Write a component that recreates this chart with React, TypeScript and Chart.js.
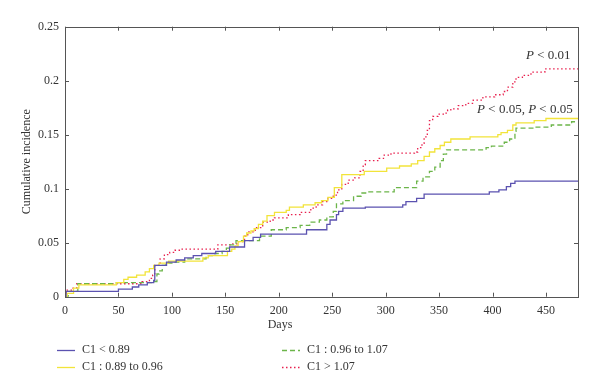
import React, { useEffect, useRef } from "react";
import { Chart, registerables } from "chart.js";
Chart.register(...registerables);

const xTicks = [0, 50, 100, 150, 200, 250, 300, 350, 400, 450];
const yTicks = [0, 0.05, 0.1, 0.15, 0.2, 0.25];
const xTitle = "Days";
const yTitle = "Cumulative incidence";
const seriesNames = ["C1 < 0.89", "C1 : 0.89 to 0.96", "C1 : 0.96 to 1.07", "C1 > 1.07"];

const blueDays = [0, 1, 50, 63, 69, 77, 83, 84, 95, 104, 112, 120, 128, 141, 154, 168, 176, 183, 226, 245, 248, 254, 256, 260, 281, 316, 319, 329, 336, 397, 406, 413, 417, 421, 480];
const blueVals = [0, 0.005, 0.007, 0.009, 0.011, 0.013, 0.015, 0.029, 0.032, 0.034, 0.036, 0.038, 0.040, 0.042, 0.046, 0.052, 0.055, 0.058, 0.062, 0.067, 0.071, 0.076, 0.079, 0.082, 0.083, 0.085, 0.088, 0.091, 0.095, 0.097, 0.099, 0.102, 0.105, 0.107, 0.107];

const yellowDays = [0, 2, 8, 13, 48, 55, 59, 67, 75, 79, 83, 88, 97, 129, 134, 152, 156, 159, 162, 167, 170, 174, 177, 181, 185, 189, 196, 207, 210, 223, 234, 240, 246, 252, 259, 280, 301, 313, 324, 330, 336, 341, 346, 351, 355, 361, 379, 405, 408, 414, 419, 422, 439, 450, 480];
const yellowVals = [0, 0.003, 0.008, 0.011, 0.013, 0.016, 0.018, 0.020, 0.023, 0.026, 0.029, 0.031, 0.033, 0.036, 0.038, 0.042, 0.044, 0.047, 0.051, 0.056, 0.059, 0.061, 0.063, 0.067, 0.070, 0.075, 0.078, 0.080, 0.083, 0.085, 0.087, 0.089, 0.092, 0.101, 0.113, 0.116, 0.119, 0.121, 0.123, 0.126, 0.130, 0.134, 0.137, 0.140, 0.143, 0.146, 0.148, 0.150, 0.152, 0.154, 0.159, 0.161, 0.163, 0.165, 0.165];

const greenDays = [0, 3, 12, 48, 83, 86, 88, 91, 94, 100, 112, 132, 140, 147, 151, 154, 160, 182, 193, 207, 220, 229, 238, 245, 251, 254, 260, 270, 277, 282, 308, 329, 335, 341, 346, 351, 354, 357, 394, 399, 411, 416, 421, 422, 439, 455, 474, 480];
const greenVals = [0, 0.005, 0.012, 0.013, 0.014, 0.021, 0.024, 0.029, 0.031, 0.032, 0.035, 0.038, 0.040, 0.042, 0.045, 0.048, 0.052, 0.056, 0.062, 0.064, 0.066, 0.069, 0.071, 0.074, 0.079, 0.086, 0.089, 0.093, 0.096, 0.097, 0.101, 0.107, 0.111, 0.116, 0.120, 0.126, 0.132, 0.136, 0.138, 0.1395, 0.143, 0.146, 0.153, 0.156, 0.157, 0.159, 0.162, 0.162];

const redDays = [0, 1, 6, 11, 72, 79, 82, 84, 89, 93, 98, 103, 108, 143, 157, 162, 168, 171, 178, 185, 192, 196, 209, 220, 230, 235, 241, 246, 251, 255, 259, 265, 271, 276, 279, 281, 294, 298, 305, 327, 330, 334, 336, 339, 341, 344, 349, 354, 358, 361, 368, 375, 382, 391, 402, 410, 414, 419, 422, 428, 436, 449, 480];
const redVals = [0, 0.006, 0.008, 0.012, 0.014, 0.017, 0.020, 0.029, 0.035, 0.039, 0.041, 0.043, 0.044, 0.048, 0.049, 0.051, 0.056, 0.060, 0.064, 0.069, 0.071, 0.073, 0.076, 0.078, 0.082, 0.085, 0.088, 0.091, 0.094, 0.099, 0.104, 0.108, 0.110, 0.116, 0.122, 0.126, 0.128, 0.131, 0.133, 0.134, 0.138, 0.142, 0.148, 0.154, 0.163, 0.167, 0.169, 0.170, 0.173, 0.174, 0.177, 0.179, 0.182, 0.185, 0.187, 0.190, 0.194, 0.199, 0.203, 0.205, 0.208, 0.211, 0.211];

const annotations = [
  { day: 473, value: 0.223, parts: [["P", true], [" < 0.01", false]] },
  { day: 475, value: 0.1735, parts: [["P", true], [" < 0.05, ", false], ["P", true], [" < 0.05", false]] },
];

const FONT = '"Liberation Serif", "Times New Roman", serif';
const TEXT = "#333333";
const FRAME = "#555555";

const colors = ["#5b52b0", "#f2e43a", "#6cb54a", "#e8204e"];
const dashes: number[][] = [[], [], [5, 3], [1.5, 2.5]];

const toPts = (d: number[], v: number[]) => d.map((x, i) => ({ x, y: v[i] }));

const decoPlugin = {
  id: "deco",
  afterDraw(chart: any) {
    const { ctx, chartArea: a, scales } = chart;
    const xs = scales.x, ys = scales.y;
    ctx.save();
    // frame
    ctx.strokeStyle = FRAME;
    ctx.lineWidth = 1;
    ctx.setLineDash([]);
    ctx.strokeRect(Math.round(a.left) + 0.5, Math.round(a.top) + 0.5, Math.round(a.right - a.left), Math.round(a.bottom - a.top));
    // inward ticks
    const tl = 4;
    ctx.beginPath();
    xTicks.forEach((v) => {
      const px = Math.round(xs.getPixelForValue(v)) + 0.5;
      ctx.moveTo(px, a.bottom);
      ctx.lineTo(px, a.bottom - tl);
      ctx.moveTo(px, a.top);
      ctx.lineTo(px, a.top + tl);
    });
    yTicks.forEach((v) => {
      const py = Math.round(ys.getPixelForValue(v)) + 0.5;
      ctx.moveTo(a.left, py);
      ctx.lineTo(a.left + tl, py);
      ctx.moveTo(a.right, py);
      ctx.lineTo(a.right - tl, py);
    });
    ctx.stroke();

    ctx.fillStyle = TEXT;
    // axis titles
    ctx.font = `12px ${FONT}`;
    ctx.textAlign = "center";
    ctx.textBaseline = "middle";
    ctx.fillText(xTitle, 280, 325);
    ctx.save();
    ctx.translate(27, (a.top + a.bottom) / 2);
    ctx.rotate(-Math.PI / 2);
    ctx.fillText(yTitle, 0, 0);
    ctx.restore();

    // annotations
    ctx.textAlign = "left";
    annotations.forEach((an) => {
      const right = xs.getPixelForValue(an.day);
      const y = ys.getPixelForValue(an.value);
      let w = 0;
      an.parts.forEach(([t, it]: any) => {
        ctx.font = `${it ? "italic " : ""}13px ${FONT}`;
        w += ctx.measureText(t).width;
      });
      let x = right - w;
      an.parts.forEach(([t, it]: any) => {
        ctx.font = `${it ? "italic " : ""}13px ${FONT}`;
        ctx.fillText(t, x, y);
        x += ctx.measureText(t).width;
      });
    });

    // legend
    const spots = [
      [57, 350],
      [57, 367],
      [282, 350],
      [282, 367],
    ];
    ctx.font = `12px ${FONT}`;
    seriesNames.forEach((name, i) => {
      const [lx, ly] = spots[i];
      ctx.strokeStyle = colors[i];
      ctx.lineWidth = 1.3;
      ctx.setLineDash(dashes[i]);
      ctx.beginPath();
      ctx.moveTo(lx, ly + 0.5);
      ctx.lineTo(lx + 18, ly + 0.5);
      ctx.stroke();
      ctx.setLineDash([]);
      ctx.fillStyle = TEXT;
      ctx.fillText(name, lx + 25, ly);
    });
    ctx.restore();
  },
};

export default function App() {
  const ref = useRef<HTMLCanvasElement>(null);
  useEffect(() => {
    if (!ref.current) return;
    const series = [
      [blueDays, blueVals],
      [yellowDays, yellowVals],
      [greenDays, greenVals],
      [redDays, redVals],
    ];
    const chart = new Chart(ref.current, {
      type: "line",
      data: {
        datasets: series.map(([d, v], i) => ({
          label: seriesNames[i],
          data: toPts(d, v),
          borderColor: colors[i],
          borderWidth: 1.3,
          borderDash: dashes[i],
          pointRadius: 0,
          stepped: "before" as const,
          fill: false,
        })),
      },
      options: {
        animation: false,
        responsive: false,
        layout: { padding: { top: 26.7, right: 22, left: 0, bottom: 0 } },
        plugins: { legend: { display: false }, tooltip: { enabled: false } },
        scales: {
          x: {
            type: "linear",
            min: 0,
            max: 480,
            afterBuildTicks: (s: any) => {
              s.ticks = xTicks.map((value) => ({ value }));
            },
            afterFit: (s: any) => {
              s.height = 95.3;
            },
            grid: { display: false, drawTicks: false },
            border: { display: false },
            ticks: { color: TEXT, font: { family: FONT, size: 12 }, padding: 7, maxRotation: 0, autoSkip: false },
          },
          y: {
            type: "linear",
            min: 0,
            max: 0.25,
            afterBuildTicks: (s: any) => {
              s.ticks = yTicks.map((value) => ({ value }));
            },
            afterFit: (s: any) => {
              s.width = 65;
            },
            grid: { display: false, drawTicks: false },
            border: { display: false },
            ticks: { color: TEXT, font: { family: FONT, size: 12 }, padding: 6, callback: (v: any) => String(v) },
          },
        },
      },
      plugins: [decoPlugin],
    });
    return () => chart.destroy();
  }, []);
  return (
    <div style={{ position: "fixed", left: 0, top: 0, width: 600, height: 392, background: "#fff" }}>
      <canvas ref={ref} width={600} height={392} style={{ width: 600, height: 392, display: "block" }} />
    </div>
  );
}
